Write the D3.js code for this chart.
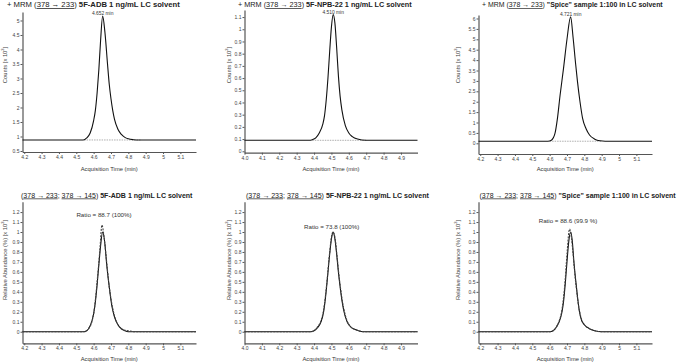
<!DOCTYPE html>
<html><head><meta charset="utf-8">
<script src="https://cdn.jsdelivr.net/npm/d3@7"></script>
<style>body{margin:0;background:#fff}svg{display:block;font-family:"Liberation Sans",Arial,sans-serif}</style>
</head><body><svg id="c" width="677" height="364"></svg>
<script>
// ---------- data ----------
const p1Time   = [4.19,4.50,4.54,4.56,4.58,4.60,4.61,4.62,4.63,4.64,4.652,4.665,4.68,4.69,4.70,4.71,4.72,4.74,4.76,4.78,4.80,4.83,4.86,5.19];
const p1Counts = [0.88,0.88,0.88,0.95,1.12,1.55,1.9,2.5,3.3,4.3,5.15,4.6,3.5,2.8,2.3,1.9,1.6,1.25,1.07,0.97,0.92,0.89,0.88,0.88];
const p1Base   = [4.545,4.87];
const p2Time   = [4.0,4.37,4.39,4.41,4.43,4.45,4.46,4.47,4.48,4.49,4.50,4.51,4.52,4.53,4.54,4.55,4.56,4.58,4.60,4.62,4.65,4.70,4.995];
const p2Counts = [0.09,0.09,0.095,0.11,0.15,0.22,0.29,0.42,0.6,0.82,1.02,1.12,1.05,0.85,0.62,0.45,0.34,0.21,0.15,0.12,0.10,0.09,0.09];
const p2Base   = [4.39,4.70];
const p3Time   = [4.19,4.59,4.61,4.63,4.645,4.66,4.68,4.70,4.721,4.735,4.75,4.76,4.775,4.79,4.81,4.83,4.86,4.89,4.92,5.19];
const p3Counts = [0.1,0.1,0.15,0.45,1.2,2.3,3.6,5.0,6.08,5.1,3.8,3.0,2.0,1.2,0.7,0.4,0.2,0.12,0.1,0.1];
const p3Base   = [4.60,4.90];

const p4Time   = [4.19,4.54,4.56,4.58,4.60,4.61,4.62,4.63,4.64,4.652,4.665,4.675,4.685,4.695,4.705,4.72,4.74,4.76,4.78,4.80,5.19];
const p4Quant  = [0,0,0.01,0.06,0.18,0.3,0.47,0.67,0.86,1.0,0.88,0.68,0.52,0.38,0.26,0.15,0.07,0.03,0.01,0,0];
const p4QTime  = [4.19,4.55,4.57,4.59,4.605,4.62,4.635,4.648,4.66,4.675,4.69,4.70,4.72,4.74,4.77,4.80,4.84,5.19];
const p4Qual   = [0,0,0.03,0.1,0.24,0.5,0.8,1.07,0.95,0.7,0.45,0.33,0.16,0.07,0.02,0.01,0,0];
const p5Time   = [4.0,4.38,4.40,4.42,4.44,4.455,4.465,4.475,4.49,4.50,4.51,4.52,4.53,4.54,4.55,4.56,4.57,4.59,4.61,4.64,4.68,4.995];
const p5Quant  = [0,0,0.01,0.04,0.1,0.2,0.33,0.5,0.78,0.93,1.0,0.93,0.78,0.6,0.45,0.32,0.22,0.1,0.05,0.02,0,0];
const p5QTime  = [4.0,4.38,4.40,4.42,4.44,4.455,4.465,4.475,4.49,4.50,4.508,4.52,4.53,4.54,4.55,4.56,4.57,4.59,4.61,4.64,4.70,4.995];
const p5Qual   = [0,0,0.01,0.05,0.11,0.22,0.35,0.52,0.8,0.95,1.0,0.95,0.8,0.62,0.47,0.34,0.24,0.11,0.05,0.02,0,0];
const p6Time   = [4.19,4.60,4.62,4.64,4.655,4.67,4.68,4.69,4.70,4.71,4.721,4.73,4.74,4.75,4.76,4.77,4.785,4.80,4.83,4.86,4.90,5.19];
const p6Quant  = [0,0,0.01,0.05,0.1,0.19,0.3,0.48,0.7,0.9,1.0,0.92,0.7,0.52,0.36,0.22,0.11,0.07,0.03,0.01,0,0];
const p6QTime  = [4.19,4.60,4.62,4.64,4.655,4.67,4.68,4.69,4.70,4.715,4.725,4.735,4.745,4.755,4.765,4.78,4.80,4.83,4.86,4.90,5.19];
const p6Qual   = [0,0,0.01,0.05,0.11,0.21,0.34,0.53,0.78,1.03,0.95,0.78,0.58,0.42,0.28,0.15,0.07,0.03,0.01,0,0];

const xTicksA      = [4.2,4.3,4.4,4.5,4.6,4.7,4.8,4.9,5.0,5.1];
const xTickLabelsA = ["4.2","4.3","4.4","4.5","4.6","4.7","4.8","4.9","5","5.1"];
const xTicksB      = [4.0,4.1,4.2,4.3,4.4,4.5,4.6,4.7,4.8,4.9];
const xTickLabelsB = ["4.0","4.1","4.2","4.3","4.4","4.5","4.6","4.7","4.8","4.9"];
const yTicks1 = [0.5,1,1.5,2,2.5,3,3.5,4,4.5,5];
const yTicks2 = [0,0.1,0.2,0.3,0.4,0.5,0.6,0.7,0.8,0.9,1,1.1];
const yTicks3 = [0,0.5,1,1.5,2,2.5,3,3.5,4,4.5,5,5.5,6];
const yTicksRel = [0,0.1,0.2,0.3,0.4,0.5,0.6,0.7,0.8,0.9,1,1.1,1.2];

const samples   = ["5F-ADB 1 ng/mL LC solvent","5F-NPB-22 1 ng/mL LC solvent","\"Spice\" sample 1:100 in LC solvent"];
const rtLabels  = ["4.652 min","4.510 min","4.721 min"];
const rtValues  = [4.652,4.510,4.721];
const rtHeights = [5.15,1.12,6.08];
const ratios    = ["Ratio = 88.7 (100%)","Ratio = 73.8 (100%)","Ratio = 88.6 (99.9 %)"];

// ---------- layout ----------
const svg = d3.select("#c");
const cols = [
  {x0:22.5, x1:196, xd:[4.19,5.19], xt:xTicksA, xl:xTickLabelsA, lab:5},
  {x0:244.5, x1:417.5, xd:[4.0,4.995], xt:xTicksB, xl:xTickLabelsB, lab:229},
  {x0:478.5, x1:652, xd:[4.19,5.19], xt:xTicksA, xl:xTickLabelsA, lab:458}
];
const titleTop = [[7,180],[238,412],[482,663]];
const titleBot = [[21,193],[246,429],[479.5,676]];
const tops = [
  {yd:[0.4655,5.293], yt:yTicks1, t:p1Time, v:p1Counts, b:p1Base, by:0.88},
  {yd:[-0.0116,1.158], yt:yTicks2, t:p2Time, v:p2Counts, b:p2Base, by:0.09},
  {yd:[-0.514,6.168], yt:yTicks3, t:p3Time, v:p3Counts, b:p3Base, by:0.1}
];
const bots = [
  {t:p4Time, v:p4Quant, qt:p4QTime, q:p4Qual},
  {t:p5Time, v:p5Quant, qt:p5QTime, q:p5Qual},
  {t:p6Time, v:p6Quant, qt:p6QTime, q:p6Qual}
];
const fmt = d3.format("~g");

function axes(g, x, y, c, yt, yBot) {
  const ax = g.append("g").attr("transform",`translate(0,${yBot})`)
    .call(d3.axisBottom(x).tickValues(c.xt).tickSize(2).tickSizeOuter(0).tickFormat((d,i)=>c.xl[i]));
  ax.selectAll("text").attr("dy","0.8em").attr("y",3);
  const ay = g.append("g").attr("transform",`translate(${c.x0},0)`)
    .call(d3.axisLeft(y).tickValues(yt).tickSize(2).tickSizeOuter(0).tickFormat(fmt));
  ay.selectAll("text").attr("x",-3);
  [ax,ay].forEach(a=>{
    a.attr("font-size",5).attr("font-family",null).attr("fill","#333");
    a.select(".domain").attr("stroke","#555").attr("stroke-width",1.2);
    a.selectAll(".tick line").attr("stroke","#555");
    a.selectAll(".tick text").attr("fill","#444");
  });
}
function ylabel(g, x, cy, main) {
  const t = g.append("text").attr("transform",`translate(${x},${cy}) rotate(-90)`)
    .attr("text-anchor","middle").attr("dominant-baseline","middle")
    .attr("font-size",5.8).attr("fill","#444");
  t.append("tspan").text(main + " [x 10");
  t.append("tspan").attr("font-size",4).attr("dy",-2).text("2");
  t.append("tspan").attr("dy",2).text("]");
}
function title(g, span, y, plus, trans, sample) {
  const t = g.append("text").attr("x",span[0]).attr("y",y).attr("font-size",7).attr("fill","#222");
  t.append("tspan").text(plus ? "+ MRM (" : "(");
  trans.forEach((s,i)=>{
    t.append("tspan").attr("text-decoration","underline").text(s);
    if (i < trans.length-1) t.append("tspan").text("; ");
  });
  t.append("tspan").text(") ");
  t.append("tspan").attr("font-weight","bold").text(sample);
  const w = t.node().getComputedTextLength();
  t.attr("font-size", 7 * (span[1]-span[0]) / w);
}
function xlabel(g, c, y) {
  g.append("text").attr("x",(c.x0+c.x1)/2).attr("y",y).attr("text-anchor","middle")
    .attr("font-size",5.8).attr("fill","#333").text("Acquisition Time (min)");
}

cols.forEach((c,i)=>{
  // top chromatogram
  const tp = tops[i];
  const yTop = [12,10,15][i], yBot = [152,152.7,154][i];
  const x = d3.scaleLinear().domain(c.xd).range([c.x0,c.x1]);
  const y = d3.scaleLinear().domain(tp.yd).range([yBot,yTop]);
  const g = svg.append("g");
  axes(g,x,y,c,tp.yt,yBot);
  const pts = tp.t.map((d,k)=>[d,tp.v[k]]);
  g.append("line").attr("x1",x(tp.b[0])).attr("x2",x(tp.b[1])).attr("y1",y(tp.by)).attr("y2",y(tp.by))
    .attr("stroke","#999").attr("stroke-width",0.8).attr("stroke-dasharray","1.5,1");
  g.append("path").datum(pts).attr("fill","none").attr("stroke","#111").attr("stroke-width",1.1)
    .attr("d",d3.line().x(d=>x(d[0])).y(d=>y(d[1])).curve(d3.curveMonotoneX));
  g.append("text").attr("x",x(rtValues[i])).attr("y",y(rtHeights[i])-1).attr("text-anchor","middle")
    .attr("font-size",4.9).attr("fill","#333").text(rtLabels[i]);
  title(g, titleTop[i], 7, true, ["378 \u2192 233"], samples[i]);
  ylabel(g, c.lab, 65, "Counts");
  xlabel(g, c, 171);

  // bottom qualifier overlay
  const bt = bots[i];
  const yB = 343.3, yT = 201.7;
  const y2 = d3.scaleLinear().domain([-0.116,1.304]).range([yB,yT]);
  const g2 = svg.append("g");
  axes(g2,x,y2,c,yTicksRel,yB);
  const line = d3.line().x(d=>x(d[0])).y(d=>y2(d[1])).curve(d3.curveMonotoneX);
  g2.append("path").datum(bt.t.map((d,k)=>[d,bt.v[k]])).attr("fill","none").attr("stroke","#111")
    .attr("stroke-width",1.1).attr("d",line);
  g2.append("path").datum(bt.qt.map((d,k)=>[d,bt.q[k]])).attr("fill","none").attr("stroke","#444")
    .attr("stroke-width",1.1).attr("stroke-dasharray","2,1.2").attr("d",line);
  g2.append("text").attr("x",[104,331.7,568][i]).attr("y",[217,229,223][i]).attr("text-anchor","middle")
    .attr("font-size",6.2).attr("fill","#333").text(ratios[i]);
  title(g2, titleBot[i], 197.5, false, ["378 \u2192 233","378 \u2192 145"], samples[i]);
  ylabel(g2, c.lab, 260, "Relative Abundance (%)");
  xlabel(g2, c, 361);
});
</script></body></html>
